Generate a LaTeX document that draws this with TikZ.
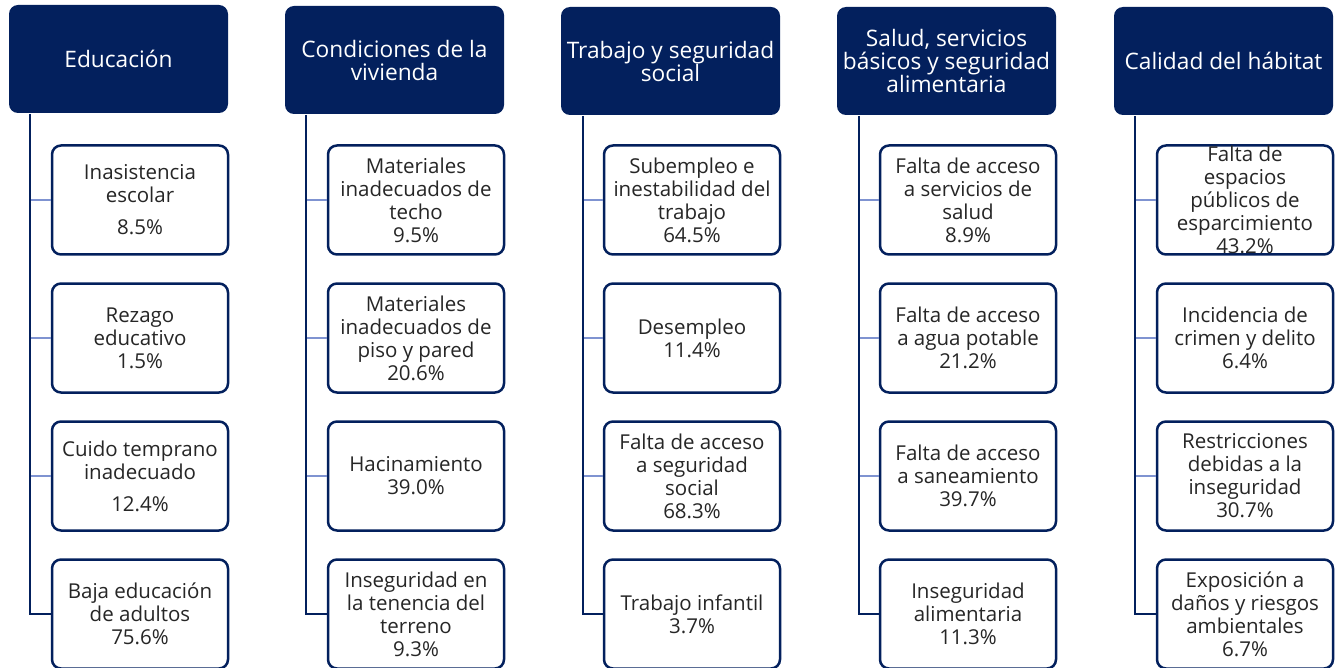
\documentclass[tikz,border=0pt]{standalone}
\usepackage{fontspec}
\setmainfont{Open Sans}
\definecolor{navy}{HTML}{03205D}
\definecolor{lightln}{HTML}{7F93D1}
\begin{document}
\begin{tikzpicture}[x=1pt,y=-1pt,
  head/.style={fill=navy, rounded corners=9pt, minimum width=219pt, minimum height=108pt,
    text=white, align=center, inner sep=0pt, font=\fontsize{22.7}{23}\selectfont},
  item/.style={draw=navy, line width=2.5pt, fill=white, rounded corners=9pt,
    minimum width=176pt, minimum height=109pt, align=center, inner sep=0pt,
    text=black!85, font=\fontsize{20.5}{23}\selectfont},
  trunk/.style={draw=navy, line width=2.8pt},
  branch/.style={draw=lightln, line width=2.8pt}]
\useasboundingbox (0,0) rectangle (1343,668);
\clip (0,0) rectangle (1343,668);
% ---------- Column 1
\node[head] (h1) at (118.5,59) {Educación};
\node[item] (a1) at (140,200) {Inasistencia\\escolar\\[9pt]8.5\%};
\node[item] (a2) at (140,338) {Rezago\\educativo\\1.5\%};
\node[item] (a3) at (140,476) {Cuido temprano\\inadecuado\\[9pt]12.4\%};
\node[item] (a4) at (140,614) {Baja educación\\de adultos\\75.6\%};
\coordinate (ta) at (30,114);
% ---------- Column 2
\node[head] (h2) at (394.5,60) {Condiciones de la\\vivienda};
\node[item] (b1) at (416,200) {Materiales\\inadecuados de\\techo\\9.5\%};
\node[item] (b2) at (416,338) {Materiales\\inadecuados de\\piso y pared\\20.6\%};
\node[item] (b3) at (416,476) {Hacinamiento\\39.0\%};
\node[item] (b4) at (416,614) {Inseguridad en\\la tenencia del\\terreno\\9.3\%};
\coordinate (tb) at (306,115);
% ---------- Column 3
\node[head] (h3) at (670.5,61) {Trabajo y seguridad\\social};
\node[item] (c1) at (692,200) {Subempleo e\\inestabilidad del\\trabajo\\64.5\%};
\node[item] (c2) at (692,338) {Desempleo\\11.4\%};
\node[item] (c3) at (692,476) {Falta de acceso\\a seguridad\\social\\68.3\%};
\node[item] (c4) at (692,614) {Trabajo infantil\\3.7\%};
\coordinate (tc) at (583,116);
% ---------- Column 4
\node[head] (h4) at (946.5,61) {Salud, servicios\\básicos y seguridad\\alimentaria};
\node[item] (d1) at (968,200) {Falta de acceso\\a servicios de\\salud\\8.9\%};
\node[item] (d2) at (968,338) {Falta de acceso\\a agua potable\\21.2\%};
\node[item] (d3) at (968,476) {Falta de acceso\\a saneamiento\\39.7\%};
\node[item] (d4) at (968,614) {Inseguridad\\alimentaria\\11.3\%};
\coordinate (td) at (859,116);
% ---------- Column 5
\node[head] (h5) at (1223.5,61) {Calidad del hábitat};
\node[item] (e1) at (1245,200) {Falta de\\espacios\\públicos de\\esparcimiento\\43.2\%};
\node[item] (e2) at (1245,338) {Incidencia de\\crimen y delito\\6.4\%};
\node[item] (e3) at (1245,476) {Restricciones\\debidas a la\\inseguridad\\30.7\%};
\node[item] (e4) at (1245,614) {Exposición a\\daños y riesgos\\ambientales\\6.7\%};
\coordinate (te) at (1135,116);
% ---------- Connectors
\foreach \t/\c in {ta/a,tb/b,tc/c,td/d,te/e}{
  \foreach \i in {1,2,3}{
    \draw[branch] (\c\i.west -| \t) -- (\c\i.west);
  }
  \draw[trunk] (\t) |- (\c4.west);
}
\end{tikzpicture}
\end{document}
